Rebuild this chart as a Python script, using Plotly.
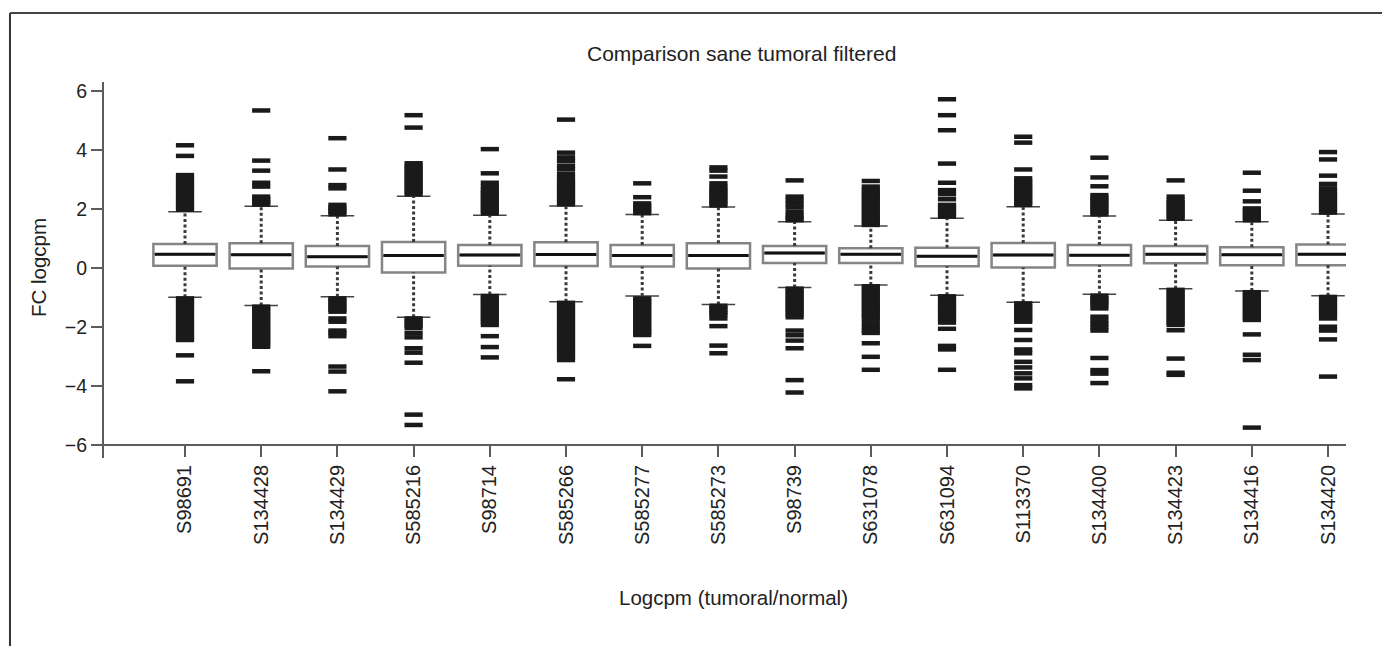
import plotly.graph_objects as go

# Samples on the x axis
samples = ["S98691", "S134428", "S134429", "S585216", "S98714", "S585266",
           "S585277", "S585273", "S98739", "S631078", "S631094", "S113370",
           "S134400", "S134423", "S134416", "S134420"]

# Box statistics (FC logcpm)
q1 = [0.08, -0.02, 0.05, -0.15, 0.08, 0.07, 0.05, -0.02,
      0.17, 0.17, 0.06, 0.02, 0.09, 0.16, 0.09, 0.09]
median = [0.47, 0.45, 0.38, 0.42, 0.44, 0.46, 0.42, 0.42,
          0.51, 0.47, 0.40, 0.44, 0.43, 0.47, 0.45, 0.47]
q3 = [0.81, 0.84, 0.75, 0.88, 0.78, 0.87, 0.78, 0.84,
      0.75, 0.67, 0.69, 0.85, 0.78, 0.75, 0.70, 0.80]
whisker_low = [-0.99, -1.27, -0.97, -1.67, -0.90, -1.14, -0.95, -1.24,
               -0.66, -0.58, -0.92, -1.16, -0.89, -0.70, -0.78, -0.94]
whisker_high = [1.91, 2.09, 1.77, 2.43, 1.79, 2.10, 1.81, 2.07,
                1.57, 1.42, 1.69, 2.08, 1.76, 1.62, 1.57, 1.83]

# Outlying genes above the upper whisker
outliers_high = [
    [1.98, 2.06, 2.14, 2.22, 2.30, 2.38, 2.47, 2.56, 2.65, 2.72, 2.80, 2.88, 2.98, 3.06, 3.15, 3.80, 4.16],
    [2.15, 2.22, 2.28, 2.35, 2.42, 2.76, 2.89, 3.30, 3.64, 5.34],
    [1.82, 1.91, 1.98, 2.05, 2.14, 2.70, 2.81, 3.34, 4.40],
    [2.50, 2.58, 2.66, 2.74, 2.82, 2.90, 2.98, 3.06, 3.14, 3.22, 3.30, 3.38, 3.46, 3.55, 4.76, 5.18],
    [1.85, 1.93, 2.01, 2.09, 2.17, 2.25, 2.33, 2.41, 2.49, 2.57, 2.65, 2.76, 2.89, 3.21, 4.03],
    [2.16, 2.24, 2.32, 2.40, 2.48, 2.56, 2.64, 2.72, 2.80, 2.88, 2.96, 3.07, 3.18, 3.34, 3.46, 3.62, 3.75, 3.91, 5.03],
    [1.86, 1.94, 2.02, 2.10, 2.19, 2.40, 2.87],
    [2.12, 2.20, 2.28, 2.36, 2.44, 2.52, 2.60, 2.68, 2.76, 2.87, 3.10, 3.30, 3.41],
    [1.62, 1.70, 1.78, 1.90, 2.05, 2.18, 2.30, 2.42, 2.97],
    [1.46, 1.54, 1.62, 1.70, 1.78, 1.86, 1.94, 2.02, 2.10, 2.18, 2.26, 2.34, 2.42, 2.50, 2.58, 2.66, 2.76, 2.95],
    [1.74, 1.82, 1.90, 1.98, 2.06, 2.14, 2.33, 2.50, 2.64, 2.89, 3.54, 4.67, 5.18, 5.72],
    [2.14, 2.22, 2.30, 2.38, 2.46, 2.54, 2.62, 2.70, 2.78, 2.86, 2.95, 3.04, 3.34, 4.25, 4.45],
    [1.82, 1.90, 1.98, 2.06, 2.14, 2.22, 2.30, 2.38, 2.47, 2.77, 3.07, 3.74],
    [1.67, 1.75, 1.83, 1.91, 1.99, 2.07, 2.15, 2.23, 2.31, 2.42, 2.97],
    [1.62, 1.70, 1.78, 1.86, 1.94, 2.02, 2.26, 2.62, 3.23],
    [1.88, 1.96, 2.04, 2.12, 2.20, 2.28, 2.36, 2.44, 2.52, 2.60, 2.70, 2.85, 3.13, 3.68, 3.93],
]

# Outlying genes below the lower whisker
outliers_low = [
    [-1.03, -1.10, -1.18, -1.26, -1.34, -1.42, -1.50, -1.58, -1.66, -1.74, -1.82, -1.90, -1.98, -2.06, -2.14, -2.22, -2.30, -2.38, -2.44, -2.96, -3.84],
    [-1.31, -1.38, -1.46, -1.54, -1.62, -1.70, -1.78, -1.86, -1.94, -2.02, -2.10, -2.18, -2.26, -2.34, -2.42, -2.50, -2.58, -2.67, -3.50],
    [-1.03, -1.10, -1.18, -1.26, -1.34, -1.41, -1.48, -1.71, -1.82, -2.12, -2.20, -2.31, -3.34, -3.51, -4.18],
    [-1.71, -1.79, -1.87, -1.95, -2.04, -2.21, -2.35, -2.72, -2.87, -3.21, -4.97, -5.32],
    [-0.95, -1.02, -1.10, -1.18, -1.26, -1.34, -1.42, -1.50, -1.58, -1.66, -1.74, -1.82, -1.93, -2.31, -2.68, -3.03],
    [-1.18, -1.26, -1.34, -1.42, -1.50, -1.58, -1.66, -1.74, -1.82, -1.90, -1.98, -2.06, -2.14, -2.22, -2.30, -2.38, -2.46, -2.54, -2.62, -2.70, -2.78, -2.86, -2.94, -3.03, -3.12, -3.77],
    [-1.03, -1.10, -1.18, -1.26, -1.34, -1.42, -1.50, -1.58, -1.66, -1.74, -1.82, -1.90, -1.98, -2.06, -2.14, -2.20, -2.27, -2.64],
    [-1.28, -1.36, -1.44, -1.52, -1.60, -1.71, -1.97, -2.63, -2.89],
    [-0.70, -0.78, -0.86, -0.94, -1.02, -1.10, -1.18, -1.26, -1.34, -1.42, -1.50, -1.58, -1.67, -2.12, -2.28, -2.46, -2.72, -3.80, -4.22],
    [-0.62, -0.70, -0.78, -0.86, -0.94, -1.02, -1.10, -1.18, -1.26, -1.34, -1.42, -1.50, -1.58, -1.65, -1.75, -1.88, -2.00, -2.12, -2.20, -2.55, -3.01, -3.45],
    [-0.96, -1.04, -1.12, -1.20, -1.28, -1.36, -1.44, -1.52, -1.60, -1.68, -1.76, -1.85, -2.06, -2.64, -2.76, -3.45],
    [-1.20, -1.28, -1.36, -1.44, -1.52, -1.60, -1.68, -1.76, -1.82, -2.10, -2.44, -2.76, -2.89, -3.18, -3.37, -3.57, -3.74, -3.97, -4.08],
    [-0.94, -1.02, -1.10, -1.18, -1.26, -1.37, -1.65, -1.78, -1.90, -2.00, -2.12, -3.05, -3.46, -3.58, -3.90],
    [-0.74, -0.82, -0.90, -0.98, -1.06, -1.14, -1.22, -1.30, -1.38, -1.46, -1.54, -1.62, -1.70, -1.78, -1.86, -1.93, -2.11, -3.07, -3.55, -3.62],
    [-0.82, -0.90, -0.98, -1.06, -1.14, -1.22, -1.30, -1.38, -1.46, -1.54, -1.62, -1.70, -1.76, -2.25, -2.94, -3.12, -5.41],
    [-0.98, -1.06, -1.14, -1.22, -1.30, -1.38, -1.46, -1.54, -1.62, -1.71, -1.99, -2.12, -2.42, -3.68],
]

y_ticks = [-6, -4, -2, 0, 2, 4, 6]

FONT = "Liberation Sans, Arial, Helvetica, sans-serif"
AXIS_GREY = "#5c5c5c"
TEXT = "#222222"
BOX_W = 0.83
CAP_HALF = 0.22

pos = list(range(len(samples)))

fig = go.Figure()

# Boxes (whiskers are drawn separately as dotted segments)
fig.add_trace(go.Box(
    x=pos, q1=q1, median=median, q3=q3,
    lowerfence=q1, upperfence=q3,
    width=BOX_W, fillcolor="white",
    line=dict(color="#858585", width=2.5),
    whiskerwidth=0, boxpoints=False, hoverinfo="skip", showlegend=False,
))

# Dotted whiskers
wx, wy = [], []
for p, a, b, c, d in zip(pos, whisker_low, q1, q3, whisker_high):
    wx += [p, p, None, p, p, None]
    wy += [a, b, None, c, d, None]
fig.add_trace(go.Scatter(
    x=wx, y=wy, mode="lines",
    line=dict(color="#3a3a3a", width=3, dash="3px,2.5px"),
    hoverinfo="skip", showlegend=False,
))

# Whisker caps
cx, cy = [], []
for p, a, d in zip(pos, whisker_low, whisker_high):
    cx += [p - CAP_HALF, p + CAP_HALF, None, p - CAP_HALF, p + CAP_HALF, None]
    cy += [a, a, None, d, d, None]
fig.add_trace(go.Scatter(
    x=cx, y=cy, mode="lines",
    line=dict(color="#444444", width=1.5),
    hoverinfo="skip", showlegend=False,
))

# Medians
mx, my = [], []
for p, m in zip(pos, median):
    mx += [p - BOX_W / 2 + 0.02, p + BOX_W / 2 - 0.02, None]
    my += [m, m, None]
fig.add_trace(go.Scatter(
    x=mx, y=my, mode="lines",
    line=dict(color="#111111", width=3),
    hoverinfo="skip", showlegend=False,
))

# Outliers
ox, oy = [], []
for p, hi, lo in zip(pos, outliers_high, outliers_low):
    for v in hi + lo:
        ox.append(p)
        oy.append(v)
fig.add_trace(go.Scatter(
    x=ox, y=oy, mode="markers",
    marker=dict(symbol="line-ew", size=13,
                line=dict(color="#1a1a1a", width=4.5)),
    hoverinfo="skip", showlegend=False,
))

fig.update_layout(
    width=1382, height=646,
    margin=dict(l=104, r=36, t=82, b=188),
    paper_bgcolor="white", plot_bgcolor="white",
    font=dict(family=FONT, color=TEXT),
    showlegend=False,
    xaxis=dict(
        range=[-1.063, 15.236],
        tickmode="array", tickvals=pos, ticktext=samples,
        tickangle=-90, tickfont=dict(size=20, color=TEXT),
        ticks="outside", ticklen=11, tickwidth=1.5, tickcolor=AXIS_GREY,
        showline=True, linecolor=AXIS_GREY, linewidth=2,
        showgrid=False, zeroline=False,
        anchor="free", position=0.0346,
    ),
    yaxis=dict(
        range=[-6.44, 6.305],
        tickmode="array", tickvals=y_ticks,
        tickfont=dict(size=19.5, color=TEXT),
        ticks="outside", ticklen=11, tickwidth=1.5, tickcolor=AXIS_GREY,
        showline=True, linecolor=AXIS_GREY, linewidth=2,
        showgrid=False, zeroline=False,
    ),
    annotations=[
        dict(text="Comparison sane tumoral filtered", xref="paper", yref="paper",
             x=0.5129, y=1.0745, xanchor="center", yanchor="middle",
             showarrow=False, font=dict(size=21, family=FONT, color=TEXT)),
        dict(text="Logcpm (tumoral/normal)", xref="paper", yref="paper",
             x=0.5072, y=-0.3723, xanchor="center", yanchor="middle",
             showarrow=False, font=dict(size=20.5, family=FONT, color=TEXT)),
        dict(text="FC logcpm", xref="paper", yref="paper",
             x=-0.0531, y=0.5053, xanchor="center", yanchor="middle",
             textangle=-90, showarrow=False,
             font=dict(size=20.5, family=FONT, color=TEXT)),
    ],
    shapes=[
        # outer frame: left and top edges
        dict(type="line", xref="paper", yref="paper",
             x0=-0.0757, x1=-0.0757, y0=-0.6, y1=1.1835,
             line=dict(color="#333333", width=2)),
        dict(type="line", xref="paper", yref="paper",
             x0=-0.0757, x1=1.1, y0=1.1835, y1=1.1835,
             line=dict(color="#444444", width=2)),
    ],
)

fig.write_html("out.html")
